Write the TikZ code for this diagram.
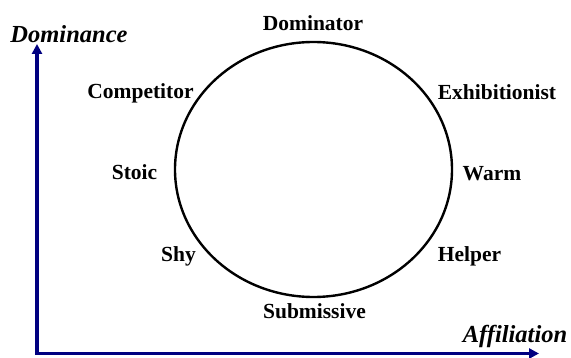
\documentclass[tikz,border=0pt]{standalone}
\usepackage{fontspec}
\setmainfont{Liberation Serif}
\usetikzlibrary{arrows.meta,shapes.geometric}
\definecolor{axisblue}{RGB}{0,0,128}
\begin{document}
\begin{tikzpicture}[x=1pt,y=-1pt,
  lbl/.style={anchor=base,inner sep=0pt,font=\fontsize{21.5}{24}\selectfont\bfseries},
  axlbl/.style={anchor=base,inner sep=0pt,font=\fontsize{24.5}{28}\selectfont\bfseries\itshape},
  axis/.style={draw=axisblue,line width=3.5pt,-{Triangle[length=10pt,width=10pt]}},
  ring/.style={ellipse,draw=black,line width=2.4pt,minimum width=277pt,minimum height=255pt,inner sep=0pt}]
\useasboundingbox (0,0) rectangle (571,358);
\node[ring] (c) at (313.5,169.5) {};
\coordinate (o) at (37,353.5);
\coordinate (ytip) at (37,44);
\coordinate (xtip) at (539,353.5);
\draw[axis] ([yshift=1.75pt]o) -- (ytip);
\draw[axis] ([xshift=-1.75pt]o) -- (xtip);
\node[axlbl] (dom) at (69,43) {Dominance};
\node[axlbl] (aff) at (515,343) {Affiliation};
\node[lbl] (n1) at (313,31) {Dominator};
\node[lbl] (n2) at (140.5,99) {Competitor};
\node[lbl] (n3) at (497,100) {Exhibitionist};
\node[lbl] (n4) at (134.5,180) {Stoic};
\node[lbl] (n5) at (492,181) {Warm};
\node[lbl] (n6) at (178.5,262) {Shy};
\node[lbl] (n7) at (469.5,262) {Helper};
\node[lbl] (n8) at (314.5,319) {Submissive};
\end{tikzpicture}
\end{document}
